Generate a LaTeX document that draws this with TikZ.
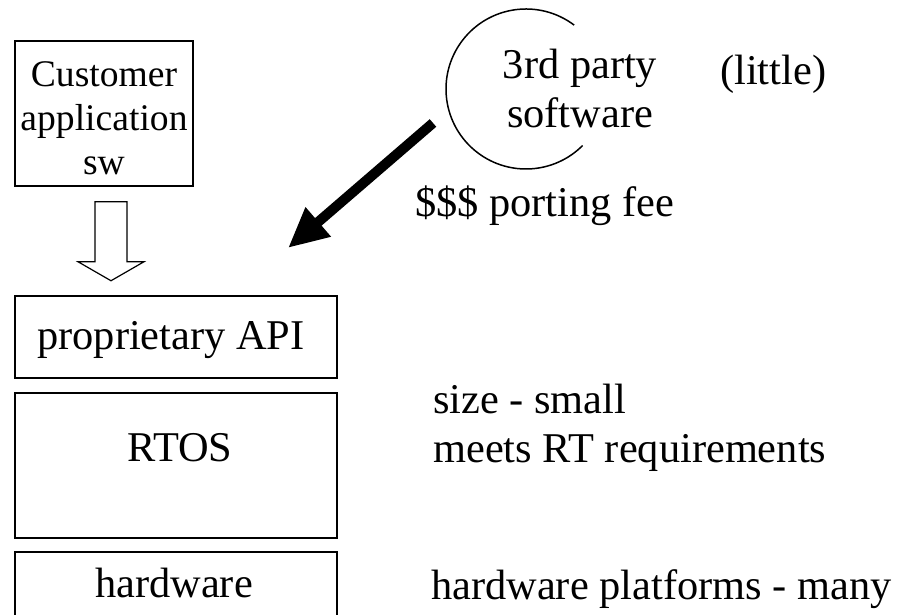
\documentclass[tikz,border=0pt]{standalone}
\usepackage{fontspec}
\setmainfont{Liberation Serif}
\usetikzlibrary{arrows.meta,calc}
\begin{document}
\begin{tikzpicture}[x=1pt,y=1pt,
  box/.style={draw, line width=1.5pt, inner sep=0pt},
  txt/.style={inner sep=0pt, font=\fontsize{42.4}{49}\selectfont},
  hollow/.style={draw, line width=1.2pt, line join=miter, fill=white},
  bigarrow/.style={line width=10pt, -{Triangle[length=40pt,width=36pt]}}
  ]
\useasboundingbox (0,0) rectangle (897,615);
\clip (0,0) rectangle (897,615);
% stacked boxes
\node[box, minimum width=178pt, minimum height=145pt] (cust) at (104,501.5) {};
\node[txt, align=center, font=\fontsize{37.6}{44}\selectfont] (custtxt) at (104,497) {Customer\\application\\sw};
\node[box, minimum width=322pt, minimum height=82pt] (api) at (176,278) {};
\node[txt, anchor=base] (apitxt) at (171,265) {proprietary API};
\node[box, minimum width=322pt, minimum height=145pt] (rtos) at (176,149.5) {};
\node[txt, anchor=base] (rtostxt) at (180,153) {RTOS};
\node[box, minimum width=322pt, minimum height=82pt] (hw) at (176,22) {};
\node[txt, anchor=base] (hwtxt) at (174,17) {hardware};
% hollow arrow from customer box to API
\begin{scope}[shift={(cust.south)}]
\path[hollow] (-9,-15) -- (23,-15) -- (23,-75) -- (40,-75) -- (7,-94) -- (-26,-75) -- (-9,-75) -- cycle;
\end{scope}
% 3rd party software
\coordinate (tpc) at (526,526);
\draw[line width=1.5pt] ($(tpc)+(53:80)$) arc[start angle=53, end angle=315, radius=80];
\node[txt, align=center] (tp) at (580,526.5) {3rd party\\software};
\node[txt, anchor=base west] (little) at (720,530) {(little)};
% porting arrow
\coordinate (ps) at (433,492);
\coordinate (pe) at (288,367);
\draw[bigarrow] (ps) -- (pe);
\node[txt, anchor=base west] (fee) at (415,398) {\$\$\$ porting fee};
% right-hand notes
\node[txt, align=left, anchor=west] (rtnotes) at (433,187.4) {size - small\\meets RT requirements};
\node[txt, anchor=base west] (hwnote) at (431,15) {hardware platforms - many};
\end{tikzpicture}
\end{document}
